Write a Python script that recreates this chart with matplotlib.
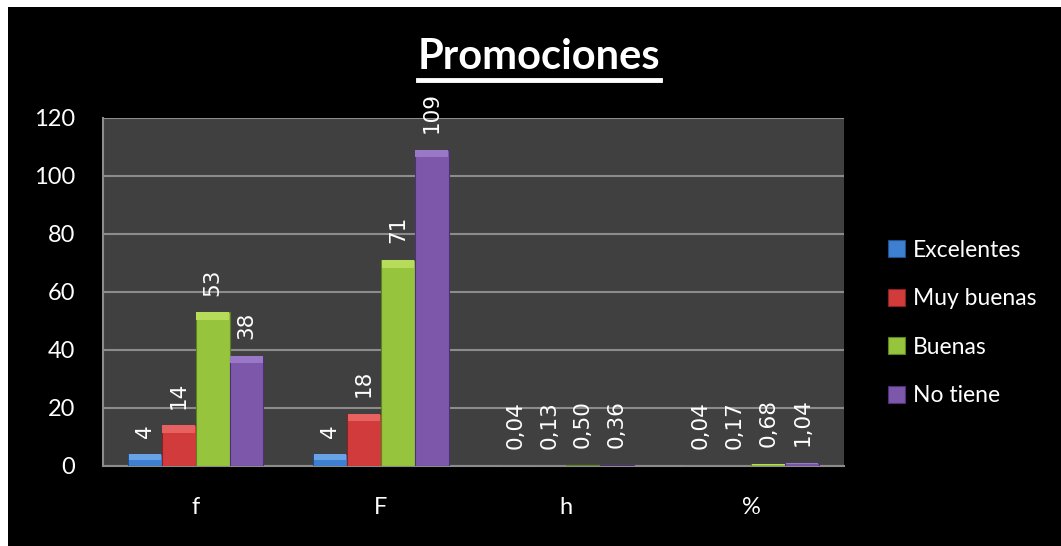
import matplotlib
matplotlib.use("Agg")
import matplotlib.pyplot as plt
from matplotlib.patches import Rectangle
from matplotlib.lines import Line2D
import numpy as np

categories = ["f", "F", "h", "%"]
series_names = ["Excelentes", "Muy buenas", "Buenas", "No tiene"]
excelentes = [4, 4, 0.04, 0.04]
muy_buenas = [14, 18, 0.13, 0.17]
buenas = [53, 71, 0.50, 0.68]
no_tiene = [38, 109, 0.36, 1.04]
labels_exc = ["4", "4", "0,04", "0,04"]
labels_muy = ["14", "18", "0,13", "0,17"]
labels_bue = ["53", "71", "0,50", "0,68"]
labels_no = ["38", "109", "0,36", "1,04"]
yticks = [0, 20, 40, 60, 80, 100, 120]
title = "Promociones"

series = [excelentes, muy_buenas, buenas, no_tiene]
series_labels = [labels_exc, labels_muy, labels_bue, labels_no]
colors = ["#3d7fd0", "#d23b3b", "#97c43d", "#7c57aa"]
light = ["#69a2e6", "#e76161", "#b6dc5a", "#9a78c8"]
edge = ["#1f4f8f", "#8a2020", "#5f8220", "#4c3274"]

W, H = 1061, 546
fig = plt.figure(figsize=(W / 100, H / 100), dpi=100)
fig.patch.set_facecolor("white")
fig.add_artist(Rectangle((8 / W, 0), 1 - 8 / W, 1 - 7 / H, transform=fig.transFigure,
                         facecolor="black", edgecolor="none", zorder=-10))

ax = fig.add_axes([103 / W, 1 - 466 / H, (844 - 103) / W, (466 - 118) / H])
ax.set_facecolor("#404040")
x = np.arange(len(categories))
w = 0.183
cap = 2.6  # bevel highlight height in data units (decorative)
for i, (vals, labs) in enumerate(zip(series, series_labels)):
    pos = x + (i - 1.5) * w
    ax.bar(pos, vals, width=w, color=colors[i], edgecolor=edge[i], linewidth=0.8,
           label=series_names[i], zorder=3)
    caps = [min(cap, v * 0.5) for v in vals]
    ax.bar(pos, caps, bottom=[v - c for v, c in zip(vals, caps)], width=w * 0.96,
           color=light[i], edgecolor="none", zorder=3.5)
    for px, v, lab in zip(pos, vals, labs):
        ax.annotate(lab, (px, v), xytext=(0, 12), textcoords="offset points",
                    rotation=90, ha="center", va="bottom", color="white",
                    fontsize=15.5, family="DejaVu Sans", zorder=4)

ax.set_xlim(-0.5, 3.5)
ax.set_ylim(0, 120)
ax.set_yticks(yticks)
ax.set_xticks(x)
ax.set_xticklabels(categories)
ax.tick_params(axis="both", length=0, colors="white", labelsize=17)
ax.tick_params(axis="x", pad=22)
ax.tick_params(axis="y", pad=20)
for lab in ax.get_xticklabels() + ax.get_yticklabels():
    lab.set_family("Lato")
ax.grid(axis="y", color="#8c8c8c", linewidth=1.5, zorder=1)
for s in ["top", "right"]:
    ax.spines[s].set_visible(False)
for s in ["left", "bottom"]:
    ax.spines[s].set_color("#8c8c8c")
    ax.spines[s].set_linewidth(1.5)

handles = [Rectangle((0, 0), 1, 1, facecolor=c, edgecolor=e, linewidth=0.8)
           for c, e in zip(colors, edge)]
leg = fig.legend(handles, series_names, loc="upper left",
                 bbox_to_anchor=(867 / W, 1 - 219 / H), frameon=False,
                 labelcolor="white", handlelength=0.75, handleheight=0.75,
                 handletextpad=0.35, labelspacing=1.2,
                 prop={"family": "Lato", "size": 16.5})

t = fig.text(539 / W, 1 - 57 / H, title, ha="center", va="center", color="white",
             fontsize=30, fontweight="bold", family="Lato")
fig.canvas.draw()
bb = t.get_window_extent(renderer=fig.canvas.get_renderer())
uy = (H - 80) / H
fig.add_artist(Line2D([bb.x0 / W, bb.x1 / W], [uy, uy], transform=fig.transFigure,
                      color="white", linewidth=3.5))

fig.savefig("out.png", dpi=100, facecolor=fig.get_facecolor())
